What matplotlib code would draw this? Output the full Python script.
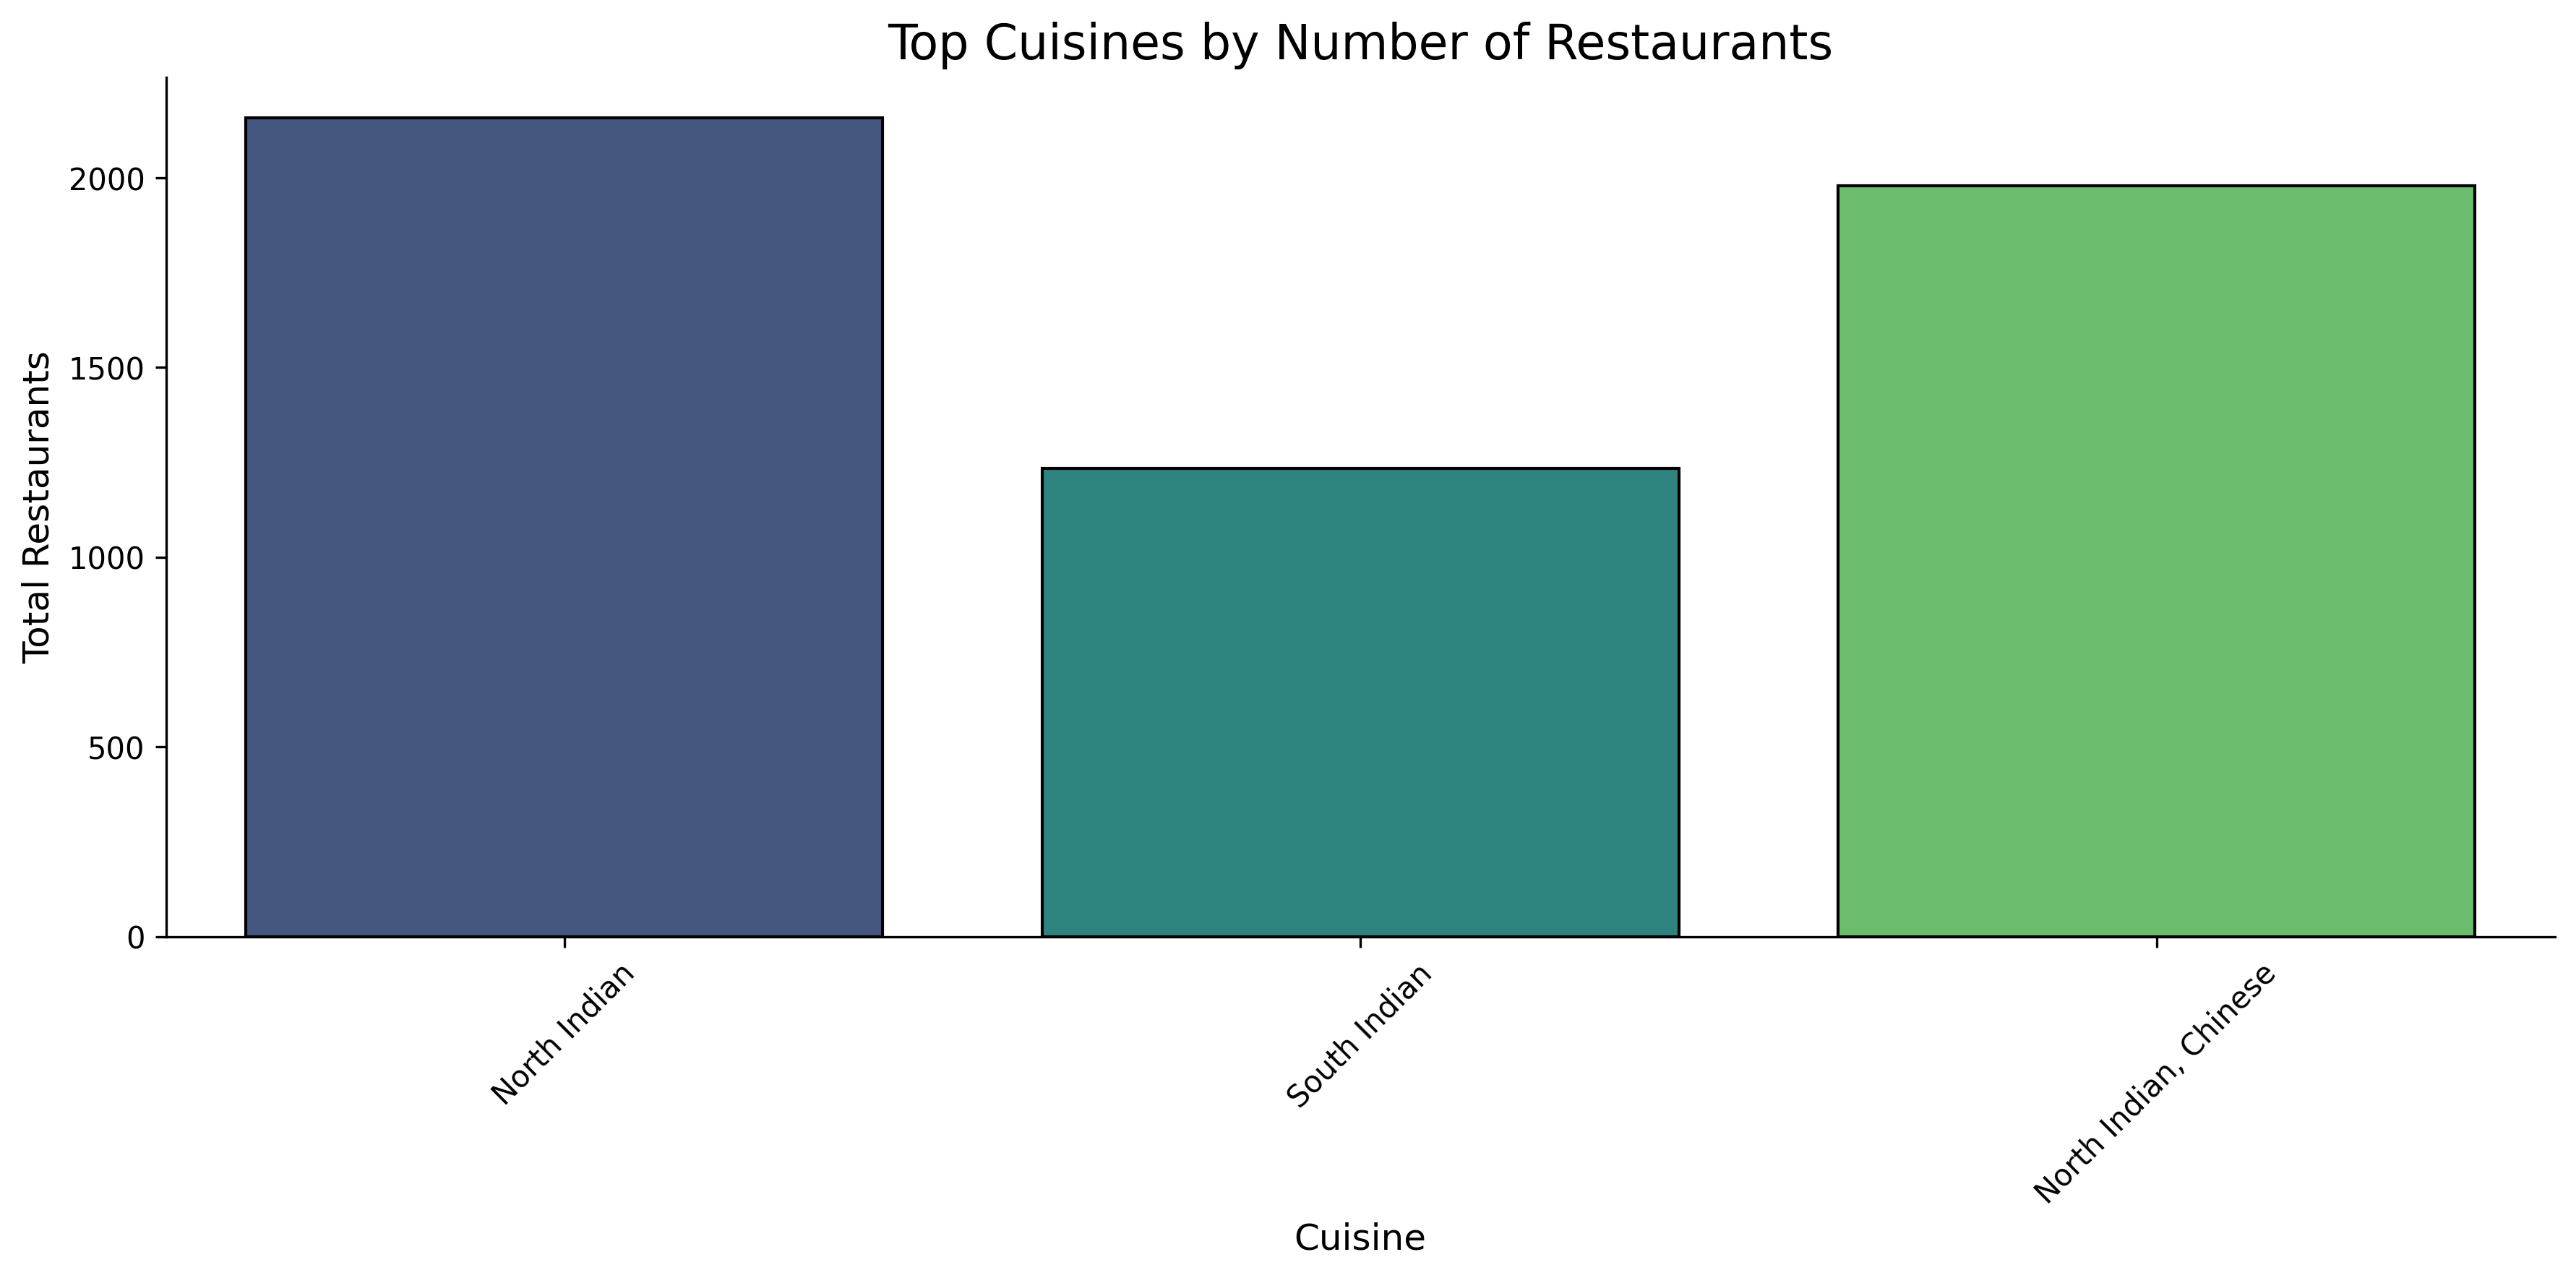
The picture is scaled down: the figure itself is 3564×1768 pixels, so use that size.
import matplotlib
matplotlib.use("Agg")
import matplotlib.pyplot as plt
import seaborn as sns
import pandas as pd

# data
cuisines = ["North Indian", "South Indian", "North Indian, Chinese"]
counts = [2158, 1235, 1979]

df = pd.DataFrame({"Cuisine": cuisines, "Total Restaurants": counts})

plt.figure(figsize=(12, 6))
sns.barplot(data=df, x="Cuisine", y="Total Restaurants", hue="Cuisine",
            palette="viridis", edgecolor="black", legend=False)
plt.title("Top Cuisines by Number of Restaurants", fontsize=16)
plt.xlabel("Cuisine", fontsize=12)
plt.ylabel("Total Restaurants", fontsize=12)
plt.xticks(rotation=45)
sns.despine()
plt.tight_layout()
plt.savefig("out.png", dpi=300, bbox_inches="tight")
